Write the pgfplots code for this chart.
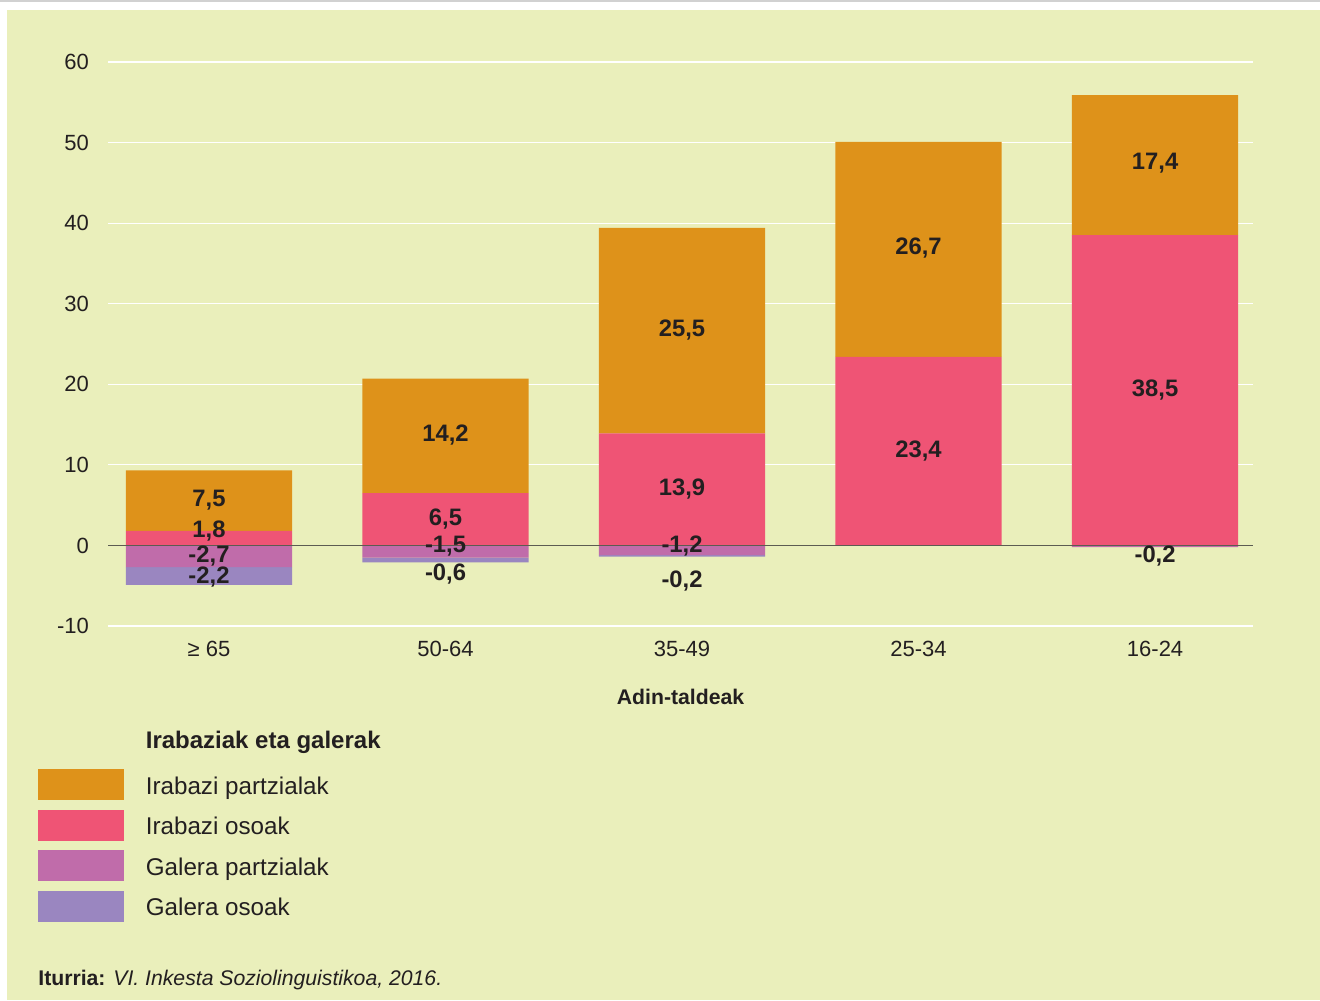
\documentclass[border=0pt]{standalone}
\usepackage{fontspec}
\setmainfont{Liberation Sans}
\usepackage{pgfplots}
\pgfplotsset{compat=1.18}
\definecolor{bg}{HTML}{EAEFBB}
\definecolor{cOr}{HTML}{DE921A}
\definecolor{cPk}{HTML}{EF5475}
\definecolor{cPu}{HTML}{C06CAA}
\definecolor{cLv}{HTML}{9A86C0}
\definecolor{txt}{HTML}{231F20}
\definecolor{zline}{HTML}{5C5C52}
\pgfplotsset{
  common/.style={
    at={(54pt,187pt)}, anchor=south west,
    scale only axis, width=572.5pt, height=282pt,
    xmin=-0.427, xmax=4.414, ymin=-10, ymax=60,
  }
}
\begin{document}
\begin{tikzpicture}
\path[use as bounding box] (0,0) rectangle (660pt,500pt);
\fill[white] (0,0) rectangle (660pt,500pt);
\fill[bg] (3.5pt,0) rectangle (660pt,495pt);
\draw[black!18, line width=1pt] (0,499.5pt) -- (660pt,499.5pt);

% positive stacks, grid, ticks, legend
\begin{axis}[common,
  axis line style={draw=none}, major tick length=0pt,
  ytick={-10,0,10,20,30,40,50,60},
  yticklabels={-10,0,10,20,30,40,50,60},
  ymajorgrids, grid style={white, line width=0.6pt},
  xtick={0,1,2,3,4},
  xticklabels={≥ 65,50-64,35-49,25-34,16-24},
  ticklabel style={font=\fontsize{11}{13}\selectfont, text=txt},
  yticklabel style={xshift=-6pt},
  xticklabel style={yshift=-4pt},
  xlabel={Adin-taldeak},
  xlabel style={at={(axis description cs:0.5,0)}, anchor=center, yshift=-35.5pt,
    font=\bfseries\fontsize{10.6}{13}\selectfont, text=txt},
  ybar stacked, bar width=0.703,
  legend style={at={(axis description cs:-0.0611,-0.1833)}, anchor=north west,
    draw=none, fill=none, inner sep=0pt, outer sep=0pt, row sep=4.85pt, column sep=11pt,
    nodes={inner sep=0pt, text height=9.5pt, text depth=3pt,
      font=\fontsize{12.1}{15}\selectfont, text=txt},
    cells={anchor=west}},
]
\addlegendimage{empty legend}
\addlegendentry[text depth=5.6pt, font=\bfseries\fontsize{12}{14}\selectfont]{Irabaziak eta galerak}
\addlegendimage{legend image code/.code={\fill[cOr] (0pt,-6pt) rectangle (42.5pt,9pt);}}
\addlegendentry{Irabazi partzialak}
\addlegendimage{legend image code/.code={\fill[cPk] (0pt,-6pt) rectangle (42.5pt,9pt);}}
\addlegendentry{Irabazi osoak}
\addlegendimage{legend image code/.code={\fill[cPu] (0pt,-6pt) rectangle (42.5pt,9pt);}}
\addlegendentry{Galera partzialak}
\addlegendimage{legend image code/.code={\fill[cLv] (0pt,-6pt) rectangle (42.5pt,9pt);}}
\addlegendentry{Galera osoak}
% Irabazi osoak
\addplot[fill=cPk, draw=none, forget plot] coordinates {(0,1.8) (1,6.5) (2,13.9) (3,23.4) (4,38.5)};
% Irabazi partzialak
\addplot[fill=cOr, draw=none, forget plot] coordinates {(0,7.5) (1,14.2) (2,25.5) (3,26.7) (4,17.4)};
\end{axis}

% negative stacks
\begin{axis}[common, hide axis, ybar stacked, bar width=0.703]
% Galera partzialak
\addplot[fill=cPu, draw=none] coordinates {(0,-2.7) (1,-1.5) (2,-1.2) (3,0) (4,-0.2)};
% Galera osoak
\addplot[fill=cLv, draw=none] coordinates {(0,-2.2) (1,-0.6) (2,-0.2) (3,0) (4,0)};
\end{axis}

% zero line and value labels
\begin{axis}[common, hide axis, clip=false]
\addplot[color=zline, line width=0.8pt] coordinates {(-0.427,0) (4.414,0)};
\addplot[draw=none, mark=none, nodes near coords, point meta=explicit symbolic,
  every node near coord/.append style={anchor=center, inner sep=0pt,
    font=\bfseries\fontsize{11.9}{13}\selectfont, text=txt}]
  table[meta=lab] {
x y lab
0 5.6 7,5
0 1.74 1,8
0 -1.37 -2,7
0 -3.98 -2,2
1 13.66 14,2
1 3.23 6,5
1 -0.12 -1,5
1 -3.6 -0,6
2 26.7 25,5
2 6.96 13,9
2 -0.12 -1,2
2 -4.47 -0,2
3 36.9 26,7
3 11.68 23,4
4 47.45 17,4
4 19.25 38,5
4 -1.37 -0,2
};
\end{axis}

\node[anchor=base west, inner sep=0pt, text=txt] at (19pt,7.1pt)
  {\fontsize{10.6}{13}\selectfont\textbf{Iturria:} \textit{VI. Inkesta Soziolinguistikoa, 2016.}};
\end{tikzpicture}
\end{document}
